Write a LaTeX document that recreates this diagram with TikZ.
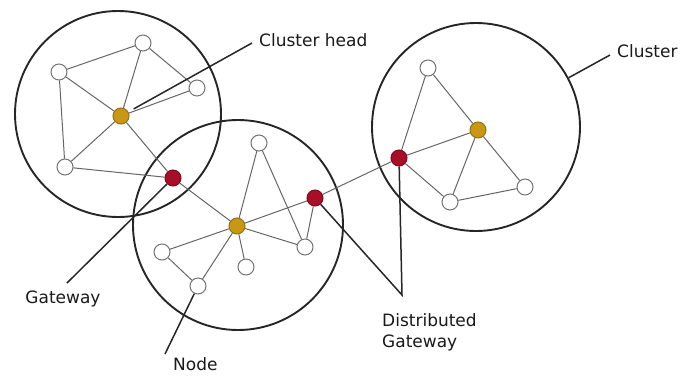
\documentclass[tikz,border=0pt]{standalone}
\usepackage{fontspec}
\setmainfont{DejaVu Sans}
\definecolor{headgold}{RGB}{200,152,20}
\definecolor{gwred}{RGB}{168,14,40}
\begin{document}
\begin{tikzpicture}[x=1pt,y=-1pt,
  cluster/.style={circle,draw=black!85,line width=1.9pt,minimum size=#1,inner sep=0pt},
  plain/.style={circle,draw=black!55,fill=white,line width=1pt,minimum size=16pt,inner sep=0pt},
  headnode/.style={plain,fill=headgold,draw=headgold!75!black},
  gatenode/.style={plain,fill=gwred,draw=gwred!75!black},
  link/.style={draw=black!60,line width=1pt},
  leader/.style={draw=black!85,line width=1.5pt},
  lbl/.style={font=\fontsize{17}{21}\selectfont,text=black!90,inner sep=0pt}
]
\useasboundingbox (0,0) rectangle (680,376);
% clusters
\node[cluster=206pt] (c1) at (118,114) {};
\node[cluster=210pt] (c2) at (238,225) {};
\node[cluster=208pt] (c3) at (476,127) {};
% cluster 1
\node[plain] (a) at (143,43) {};
\node[plain] (b) at (59,72) {};
\node[plain] (c) at (197,88) {};
\node[headnode] (ch1) at (121,116) {};
\node[plain] (d) at (65,167) {};
\node[gatenode] (g1) at (173,178) {};
% cluster 2
\node[plain] (e) at (259,143) {};
\node[headnode] (ch2) at (237,226) {};
\node[gatenode] (g2) at (315,198) {};
\node[plain] (f) at (305,247) {};
\node[plain] (h) at (162,252) {};
\node[plain] (i) at (246,267) {};
\node[plain] (j) at (198,286) {};
% cluster 3
\node[plain] (k) at (428,68) {};
\node[headnode] (ch3) at (478,130) {};
\node[gatenode] (g3) at (399,158) {};
\node[plain] (l) at (450,202) {};
\node[plain] (m) at (525,187) {};
% links
\draw[link] (b) -- (a);
\draw[link] (a) -- (c);
\draw[link] (a) -- (ch1);
\draw[link] (b) -- (ch1);
\draw[link] (b) -- (d);
\draw[link] (ch1) -- (c);
\draw[link] (ch1) -- (d);
\draw[link] (d) -- (g1);
\draw[link] (ch1) -- (g1);
\draw[link] (g1) -- (ch2);
\draw[link] (e) -- (ch2);
\draw[link] (e) -- (f);
\draw[link] (ch2) -- (f);
\draw[link] (f) -- (g2);
\draw[link] (ch2) -- (g2);
\draw[link] (ch2) -- (h);
\draw[link] (ch2) -- (i);
\draw[link] (ch2) -- (j);
\draw[link] (h) -- (j);
\draw[link] (g2) -- (g3);
\draw[link] (k) -- (g3);
\draw[link] (k) -- (ch3);
\draw[link] (ch3) -- (g3);
\draw[link] (ch3) -- (l);
\draw[link] (ch3) -- (m);
\draw[link] (l) -- (m);
\draw[link] (g3) -- (l);
% labels
\node[lbl,anchor=base west] (chl) at (259,46) {Cluster head};
\coordinate (chend) at (252,43);
\draw[leader,shorten >=6pt] (chend) -- (ch1);
\node[lbl,anchor=base west] (cl) at (617,57) {Cluster};
\coordinate (clend) at (610,55);
\draw[leader] (c3.28) -- (clend);
\node[lbl,anchor=base] (gwl) at (63,303) {Gateway};
\coordinate (gwend) at (67,283);
\draw[leader] (gwend) -- (g1);
\node[lbl,anchor=base west] (nl) at (173,370) {Node};
\coordinate (nend) at (165,354);
\draw[leader] (nend) -- (j);
\node[lbl,anchor=north west,align=left] (dgl) at (382,313) {Distributed\\Gateway};
\coordinate (dg) at (402,295);
\draw[leader] (g2) -- (dg) -- (g3);
\end{tikzpicture}
\end{document}
